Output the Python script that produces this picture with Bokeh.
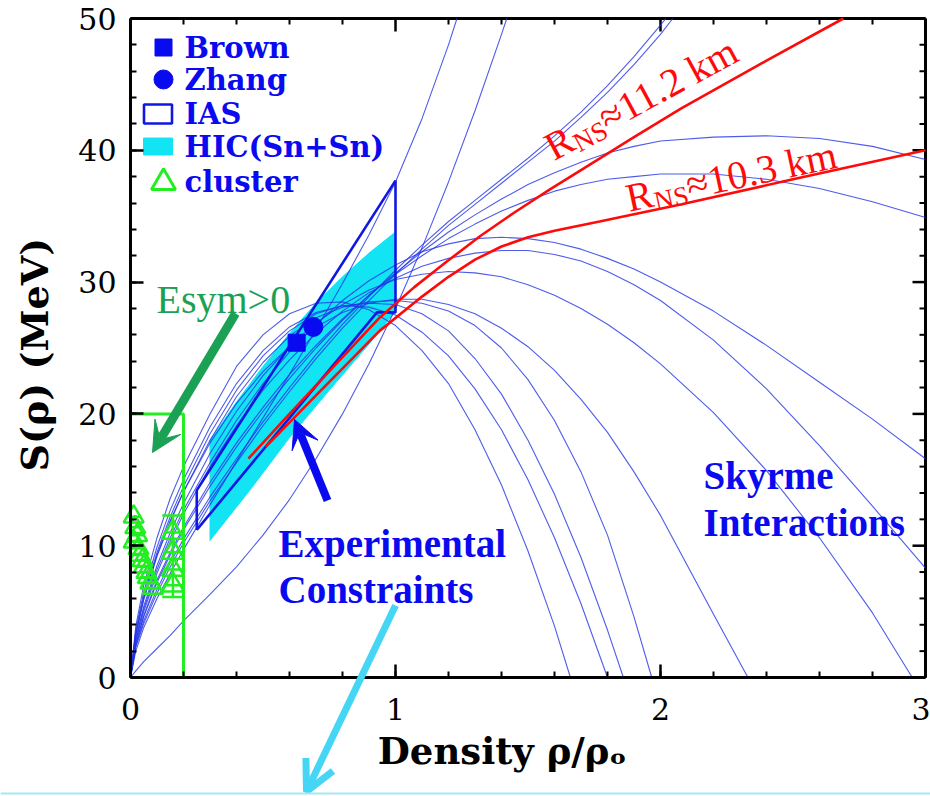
import math
from bokeh.plotting import figure
from bokeh.models import Range1d, Label, Arrow, VeeHead, OpenHead, SingleIntervalTicker
from bokeh.embed import file_html
from bokeh.resources import INLINE

# ---------------- data ----------------
grid = [0, 0.02, 0.05, 0.1, 0.15, 0.2, 0.3, 0.4, 0.5, 0.6, 0.7, 0.8, 0.9, 1.0,
        1.1, 1.2, 1.3, 1.4, 1.5, 1.6, 1.7, 1.8, 1.9, 2.0, 2.2, 2.4, 2.6, 2.8, 3.0]

# values on the grid, followed by the point where the curve leaves the box (if it does)
skyrme_1 = [0, 2.0, 3.8, 6.0, 7.9, 9.7, 13.1, 16.4, 19.7, 23.0, 26.4, 29.9, 33.6, 37.6, 42.4, 48.0]
skyrme_1_exit = (1.232, 50.0)
skyrme_2 = [0, 0.5, 1.2, 2.2, 3.2, 4.3, 6.3, 8.4, 10.8, 13.5, 16.6, 20.0, 23.8, 28.0, 32.6, 37.6, 43.0, 48.8]
skyrme_2_exit = (1.42, 50.0)
skyrme_3 = [0, 2.4, 4.3, 6.7, 8.7, 10.5, 13.7, 16.6, 19.4, 22.0, 24.5, 26.8, 28.9, 30.9, 32.8, 34.6, 36.2,
            37.8, 39.4, 41.1, 42.9, 44.9, 47.1, 49.5]
skyrme_3_exit = (2.02, 50.0)
skyrme_4 = [0, 2.3, 4.1, 6.4, 8.4, 10.2, 13.4, 16.3, 19.1, 21.7, 24.2, 26.5, 28.6, 30.6, 32.5, 34.3, 35.9,
            37.5, 39.1, 40.7, 42.5, 44.4, 46.5, 48.8]
skyrme_4_exit = (2.046, 50.0)
skyrme_5 = [0, 2.5, 4.6, 7.2, 9.3, 11.2, 14.5, 17.5, 20.2, 22.7, 25.0, 27.1, 29.0, 30.7, 32.3, 33.8, 35.1,
            36.3, 37.4, 38.3, 39.1, 39.8, 40.3, 40.7, 41.0, 41.1, 40.9, 40.3, 39.3]
skyrme_6 = [0, 2.6, 4.7, 7.4, 9.5, 11.4, 14.8, 17.8, 20.5, 23.0, 25.2, 27.2, 29.0, 30.6, 32.0, 33.3, 34.4,
            35.4, 36.2, 36.9, 37.4, 37.8, 38.0, 38.2, 38.2, 37.8, 37.1, 36.1, 34.9]
skyrme_7 = [0, 2.9, 5.2, 8.2, 10.6, 12.7, 16.3, 19.5, 22.3, 24.7, 26.8, 28.6, 30.1, 31.3, 32.3, 32.9, 33.3,
            33.4, 33.3, 33.0, 32.5, 31.8, 31.0, 30.0, 27.8, 25.2, 22.4, 19.6, 16.6]
skyrme_8 = [0, 2.8, 5.0, 7.9, 10.3, 12.4, 16.0, 19.1, 21.8, 24.1, 26.1, 27.8, 29.2, 30.3, 31.2, 31.8, 32.2,
            32.4, 32.4, 32.1, 31.6, 30.8, 29.8, 28.6, 25.6, 21.9, 17.6, 13.0, 8.3]
skyrme_9 = [0, 3.0, 5.4, 8.5, 11.0, 13.2, 17.0, 20.2, 22.9, 25.1, 26.9, 28.3, 29.4, 30.2, 30.6, 30.8, 30.7,
            30.4, 29.8, 29.0, 28.0, 26.8, 25.4, 23.8, 20.1, 15.7, 10.6, 4.9]
skyrme_9_exit = (2.95, 0.0)
skyrme_10 = [0, 3.3, 6.0, 9.3, 11.9, 14.1, 17.8, 20.8, 23.2, 25.1, 26.6, 27.7, 28.4, 28.7, 28.7, 28.3, 27.6,
             26.5, 25.1, 23.3, 21.1, 18.6, 15.6, 12.3, 4.8]
skyrme_10_exit = (2.33, 0.0)
skyrme_11 = [0, 3.9, 7.0, 10.6, 13.6, 16.0, 20.0, 23.6, 26.0, 27.6, 28.4, 28.5, 27.9, 26.7, 24.8, 22.3, 18.8,
             14.6, 9.6, 3.9]
skyrme_11_exit = (1.66, 0.0)
skyrme_12 = [0, 3.6, 6.5, 9.9, 12.7, 15.0, 19.0, 22.3, 24.8, 26.6, 27.7, 28.2, 28.1, 27.5, 26.2, 24.4, 21.9,
             18.8, 15.0, 10.6, 5.6]
skyrme_12_exit = (1.80, 0.0)
skyrme_13 = [0, 3.4, 6.2, 9.5, 12.2, 14.5, 18.5, 21.8, 24.4, 26.3, 27.6, 28.2, 28.4, 28.3, 27.6, 26.3, 24.2,
             21.5, 18.0, 13.9, 9.1, 3.6]
skyrme_13_exit = (1.86, 0.0)
skyrme_14 = [0, 3.2, 5.9, 9.2, 11.8, 14.1, 18.0, 21.3, 23.9, 25.9, 27.3, 28.1, 28.5, 28.6, 28.4, 27.8, 26.7,
             25.0, 22.6, 19.5, 15.6, 10.8, 4.6]
skyrme_14_exit = (1.967, 0.0)
skyrme_curves = [(skyrme_1, skyrme_1_exit), (skyrme_2, skyrme_2_exit), (skyrme_3, skyrme_3_exit),
                 (skyrme_4, skyrme_4_exit), (skyrme_5, None), (skyrme_6, None), (skyrme_7, None),
                 (skyrme_8, None), (skyrme_9, skyrme_9_exit), (skyrme_10, skyrme_10_exit),
                 (skyrme_11, skyrme_11_exit), (skyrme_12, skyrme_12_exit),
                 (skyrme_13, skyrme_13_exit), (skyrme_14, skyrme_14_exit)]

ns_112_x = [0.445, 0.6, 0.8, 0.94, 1.07, 1.19, 1.32, 1.45, 1.58, 1.70, 1.9, 2.08, 2.4, 2.69]
ns_112_y = [16.6, 20.0, 24.3, 27.3, 29.6, 31.5, 33.5, 35.3, 37.0, 38.5, 41.0, 43.2, 46.8, 50.0]
ns_103_x = [0.51, 0.7, 0.94, 1.1, 1.2, 1.3, 1.4, 1.5, 1.6, 1.77, 2.08, 2.5, 3.0]
ns_103_y = [17.5, 21.4, 26.3, 28.9, 30.4, 31.7, 32.7, 33.4, 33.9, 34.6, 35.9, 37.8, 40.0]

hic_x = [0.3, 0.4, 0.5, 0.6, 0.7, 0.8, 0.9, 1.0, 1.0, 0.9, 0.75, 0.6, 0.45, 0.3]
hic_y = [18.0, 20.9, 23.6, 26.1, 28.4, 30.4, 32.2, 33.8, 27.8, 25.3, 21.8, 18.2, 14.2, 10.4]

ias_x = [0.25, 0.25, 1.0, 1.0, 0.93, 0.25]
ias_y = [11.2, 14.2, 37.7, 27.7, 27.7, 11.2]

brown_x, brown_y = [0.627], [25.4]
zhang_x, zhang_y = [0.69], [26.6]

esym_x = [0.0, 0.2, 0.2]
esym_y = [20.0, 20.0, 0.0]

cluster_x = [0.012, 0.018, 0.025, 0.012, 0.03, 0.035, 0.045, 0.05, 0.06, 0.065, 0.075, 0.085,
             0.16, 0.16, 0.16, 0.16]
cluster_y = [12.2, 11.4, 10.8, 10.3, 9.8, 9.3, 8.9, 8.4, 8.0, 7.6, 7.2, 6.8,
             11.0, 9.5, 8.2, 7.0]
cluster_xerr = [0.025] * 12 + [0.035] * 4
cluster_band_x = 0.16
cluster_band_y = [6.1, 12.3]

x_ticks_interval = 1
y_ticks_interval = 10
x_min, x_max = 0, 3
y_min, y_max = 0, 50

# ---------------- layout helpers (pixel -> data) ----------------
L, R, T, B = 130, 925, 18, 677      # pixel position of the axis box
W, H = 930, 796
PPX = (R - L) / (x_max - x_min)
PPY = (B - T) / (y_max - y_min)
def dx(px):
    return (px - L) / PPX
def dy(py):
    return (B - py) / PPY

# the frame covers the whole canvas; both axes are pinned to the box edges (x=0, y=0)
p = figure(width=W, height=H, x_range=Range1d(dx(0), dx(W)), y_range=Range1d(dy(H), dy(0)),
           output_backend="svg", toolbar_location=None,
           min_border_left=0, min_border_right=0, min_border_top=0, min_border_bottom=0,
           x_axis_label="Density ρ/ρₒ" + "\u00a0" * 4,
           y_axis_label="S(ρ)  (MeV)")
p.outline_line_color = None
p.grid.visible = False
p.background_fill_color = "white"
p.border_fill_color = "white"

p.xaxis.ticker = SingleIntervalTicker(interval=x_ticks_interval, num_minor_ticks=5)
p.yaxis.ticker = SingleIntervalTicker(interval=y_ticks_interval, num_minor_ticks=5)
p.xaxis.fixed_location = y_min
p.yaxis.fixed_location = x_min
p.xaxis.bounds = (x_min, x_max)
p.yaxis.bounds = (y_min, y_max)

for ax in p.xaxis + p.yaxis:
    ax.axis_line_width = 3
    ax.axis_line_color = "black"
    ax.major_tick_in = 13
    ax.major_tick_out = 0
    ax.minor_tick_in = 6
    ax.minor_tick_out = 0
    ax.major_tick_line_width = 2.5
    ax.minor_tick_line_width = 2
    ax.major_tick_line_color = "black"
    ax.minor_tick_line_color = "black"
    ax.major_label_text_font = "DejaVu Serif"
    ax.major_label_text_font_size = "30px"
    ax.major_label_text_color = "black"
    ax.axis_label_text_font = "DejaVu Serif"
    ax.axis_label_text_font_style = "bold"
    ax.axis_label_text_color = "black"
p.xaxis.major_label_standoff = 20
p.yaxis.major_label_standoff = 14
p.xaxis.axis_label_text_font_size = "37px"
p.xaxis.axis_label_standoff = 6
p.yaxis.axis_label_text_font_size = "38px"
p.yaxis.axis_label_standoff = 18

# top and right edges of the box with mirrored inward ticks
p.segment([x_min, x_max], [y_max, y_min], [x_max, x_max], [y_max, y_max], line_color="black", line_width=3)
top_major = [x_ticks_interval * i for i in range(4)]
top_minor = [0.2 * i for i in range(16) if i % 5]
right_major = [y_ticks_interval * i for i in range(6)]
right_minor = [2 * i for i in range(26) if i % 5]
p.segment(top_major, [y_max] * 4, top_major, [y_max - 13 / PPY] * 4, line_color="black", line_width=2.5)
p.segment(top_minor, [y_max] * len(top_minor), top_minor, [y_max - 6 / PPY] * len(top_minor),
          line_color="black", line_width=2)
p.segment([x_max] * 6, right_major, [x_max - 13 / PPX] * 6, right_major, line_color="black", line_width=2.5)
p.segment([x_max] * len(right_minor), right_minor, [x_max - 6 / PPX] * len(right_minor), right_minor,
          line_color="black", line_width=2)

# ---------------- HIC band ----------------
p.patch(hic_x, hic_y, fill_color="#12E4F4", line_color="#12E4F4", line_width=1)

# ---------------- Skyrme curves ----------------
for ys, ex in skyrme_curves:
    xs = grid[:len(ys)]
    if ex is not None:
        xs = xs + [ex[0]]
        ys = ys + [ex[1]]
    p.line(xs, ys, line_color="#2233E6", line_alpha=0.8, line_width=1.1)

p.line(ias_x, ias_y, line_color="#1018E0", line_width=2.6)

# ---------------- neutron star lines ----------------
p.line(ns_112_x, ns_112_y, line_color="#FF0A0A", line_width=2.6)
p.line(ns_103_x, ns_103_y, line_color="#FF0A0A", line_width=2.6)

# ---------------- points ----------------
p.scatter(brown_x, brown_y, marker="square", size=17, color="#0A0AF0")
p.scatter(zhang_x, zhang_y, marker="circle", size=19, color="#0A0AF0")

# Esym > 0 region and cluster points
GREEN = "#22EE22"
p.line(esym_x, esym_y, line_color=GREEN, line_width=3)
p.segment([x - e for x, e in zip(cluster_x, cluster_xerr)], cluster_y,
          [x + e for x, e in zip(cluster_x, cluster_xerr)], cluster_y,
          line_color=GREEN, line_width=2.5)
p.segment([cluster_band_x], [cluster_band_y[0]], [cluster_band_x], [cluster_band_y[1]],
          line_color=GREEN, line_width=2.5)
p.segment([cluster_band_x - 0.04] * 2, cluster_band_y, [cluster_band_x + 0.04] * 2, cluster_band_y,
          line_color=GREEN, line_width=2.5)
p.scatter(cluster_x[:12], cluster_y[:12], marker="triangle", size=20, fill_color=None,
          line_color=GREEN, line_width=2.5)
p.scatter(cluster_x[12:], cluster_y[12:], marker="triangle", size=22, fill_color=None,
          line_color=GREEN, line_width=2.5)

# ---------------- legend (drawn by hand) ----------------
leg_font = "DejaVu Serif"
leg_col = "#0A0AF0"
p.scatter([dx(163)], [dy(47)], marker="square", size=17, color=leg_col)
p.scatter([dx(163)], [dy(79)], marker="circle", size=19, color=leg_col)
p.rect([dx(157.5)], [dy(113.5)], width=28, height=19, width_units="screen", height_units="screen",
       fill_color=None, line_color="#1018E0", line_width=2.6)
p.rect([dx(157.5)], [dy(146)], width=29, height=17, width_units="screen", height_units="screen",
       fill_color="#12E4F4", line_color="#12E4F4")
p.scatter([dx(163)], [dy(182)], marker="triangle", size=24, fill_color=None,
          line_color=GREEN, line_width=3)
for txt, py in [("Brown", 47), ("Zhang", 79), ("IAS", 113), ("HIC(Sn+Sn)", 146), ("cluster", 181)]:
    p.add_layout(Label(x=dx(184), y=dy(py), text=txt, text_font=leg_font, text_font_style="bold",
                       text_font_size="29px", text_color=leg_col, text_baseline="middle"))

# ---------------- annotations ----------------
p.add_layout(Label(x=dx(156), y=dy(299), text="Esym>0", text_font="Liberation Serif",
                   text_font_size="40px", text_color="#1BA154", text_baseline="alphabetic"))
for txt, px, py in [("Experimental", 278, 543), ("Constraints", 278, 589),
                    ("Skyrme", 703, 475), ("Interactions", 703, 522)]:
    p.add_layout(Label(x=dx(px), y=dy(py), text=txt, text_font="Liberation Serif",
                       text_font_style="bold", text_font_size="39px", text_color="#0A0AF0",
                       text_baseline="alphabetic"))

def rns_label(px0, py0, ang_deg, rest):
    th = math.radians(ang_deg)
    F, Fs = 40, 27
    wR = 0.667 * F
    wNS = (0.722 + 0.556) * Fs
    sh = 9
    c, s = math.cos(th), math.sin(th)
    kw = dict(text_font="Liberation Serif", text_color="#FF0A0A", angle=th,
              text_baseline="alphabetic", text_align="left")
    p.add_layout(Label(x=dx(px0), y=dy(py0), text="R", text_font_size=f"{F}px", **kw))
    p.add_layout(Label(x=dx(px0), y=dy(py0), x_offset=wR * c + sh * s, y_offset=wR * s - sh * c,
                       text="NS", text_font_size=f"{Fs}px", **kw))
    p.add_layout(Label(x=dx(px0), y=dy(py0), x_offset=(wR + wNS) * c, y_offset=(wR + wNS) * s,
                       text=rest, text_font_size=f"{F}px", **kw))

rns_label(547, 149, 28.5, "≈11.2 km")
rns_label(626, 198, 12.0, "≈10.3 km")

# ---------------- arrows ----------------
p.add_layout(Arrow(x_start=dx(235), y_start=dy(313), x_end=dx(152), y_end=dy(452),
                   line_color="#1BA154", line_width=9,
                   end=VeeHead(size=30, fill_color="#1BA154", line_color="#1BA154")))
p.add_layout(Arrow(x_start=dx(327), y_start=dy(500), x_end=dx(294), y_end=dy(419),
                   line_color="#0A0AF0", line_width=8,
                   end=VeeHead(size=28, fill_color="#0A0AF0", line_color="#0A0AF0")))
LB = "#45D6F6"
p.add_layout(Arrow(x_start=dx(395), y_start=dy(605), x_end=dx(306), y_end=dy(791),
                   line_color=LB, line_width=7,
                   end=OpenHead(size=30, line_color=LB, line_width=7)))
p.add_layout(Arrow(x_start=dx(0), y_start=dy(793), x_end=dx(W), y_end=dy(793),
                   line_color="#A6E8F6", line_width=2, end=None))

open("out.html", "w").write(file_html(p, INLINE))
